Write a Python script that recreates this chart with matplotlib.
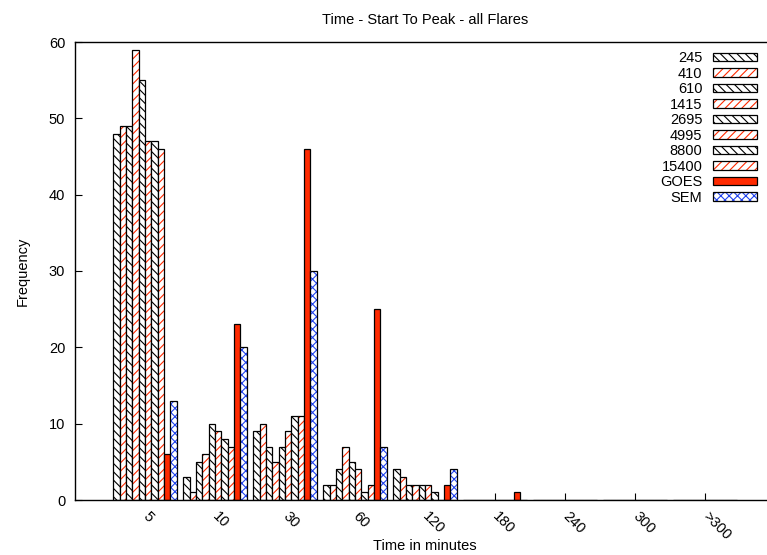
import numpy as np
import matplotlib
matplotlib.use('Agg')
import matplotlib.pyplot as plt

plt.rcParams['font.family'] = ['Liberation Sans', 'DejaVu Sans']
plt.rcParams['hatch.linewidth'] = 0.8

# Categorias (tiempo en minutos)
categories = ['5', '10', '30', '60', '120', '180', '240', '300', '>300']

# Frecuencias por serie
f245 = [48, 3, 9, 2, 4, 0, 0, 0, 0]
f410 = [49, 1, 10, 2, 3, 0, 0, 0, 0]
f610 = [49, 5, 7, 4, 2, 0, 0, 0, 0]
f1415 = [59, 6, 5, 7, 2, 0, 0, 0, 0]
f2695 = [55, 10, 7, 5, 2, 0, 0, 0, 0]
f4995 = [47, 9, 9, 4, 2, 0, 0, 0, 0]
f8800 = [47, 8, 11, 1, 1, 0, 0, 0, 0]
f15400 = [46, 7, 11, 2, 0, 0, 0, 0, 0]
goes = [6, 23, 46, 25, 2, 1, 0, 0, 0]
sem = [13, 20, 30, 7, 4, 0, 0, 0, 0]

series = [('245', f245), ('410', f410), ('610', f610), ('1415', f1415),
          ('2695', f2695), ('4995', f4995), ('8800', f8800), ('15400', f15400),
          ('GOES', goes), ('SEM', sem)]

RED = '#ff2a00'
BLUE = '#2244ee'
FS = 10.5

fig = plt.figure(figsize=(7.67, 5.55), dpi=100)
# el eje se sale por la derecha como en la original
ax = fig.add_axes([75/767, 55/555, 700/767, 458/555])

x = np.arange(len(categories))
w = 1/11
handles = []
for i, (name, vals) in enumerate(series):
    pos = x + (i - 4.5) * w
    if name == 'GOES':
        ax.bar(pos, vals, w, color=RED, edgecolor='black', lw=0.9)
        h = plt.Rectangle((0, 0), 1, 1, facecolor=RED, edgecolor='black', lw=0.9)
    elif name == 'SEM':
        ax.bar(pos, vals, w, color='white', edgecolor=BLUE, hatch='xxxx', lw=0)
        ax.bar(pos, vals, w, color='none', edgecolor='black', lw=0.9)
        h = (plt.Rectangle((0, 0), 1, 1, facecolor='white', edgecolor=BLUE, hatch='xxxx', lw=0),
             plt.Rectangle((0, 0), 1, 1, facecolor='none', edgecolor='black', lw=0.9))
    else:
        hc, hp = ('black', '\\\\\\\\') if i % 2 == 0 else (RED, '////')
        ax.bar(pos, vals, w, color='white', edgecolor=hc, hatch=hp, lw=0)
        ax.bar(pos, vals, w, color='none', edgecolor='black', lw=0.9)
        h = (plt.Rectangle((0, 0), 1, 1, facecolor='white', edgecolor=hc, hatch=hp, lw=0),
             plt.Rectangle((0, 0), 1, 1, facecolor='none', edgecolor='black', lw=0.9))
    handles.append(h)

ax.set_xlim(-1, 9)
ax.set_ylim(0, 60)
ax.set_yticks(range(0, 61, 10))
ax.set_xticks(x)
ax.set_xticklabels(categories, rotation=-45, ha='left', va='center',
                   rotation_mode='anchor')
ax.tick_params(direction='in', length=5, labelsize=FS, width=0.8)
ax.tick_params(axis='x', pad=10)
ax.tick_params(axis='y', pad=7)
for s in ax.spines.values():
    s.set_linewidth(1.0)

ax.set_title('Time - Start To Peak - all Flares', fontsize=FS, pad=13)
ax.set_xlabel('Time in minutes', fontsize=FS, va='center')
ax.xaxis.set_label_coords(0.5, -46/458)
ax.set_ylabel('Frequency', fontsize=FS, labelpad=14)

fig.legend(handles, [n for n, _ in series], loc='upper right',
           bbox_to_anchor=(757/767, 1 - 51/555), frameon=False,
           markerfirst=False, fontsize=FS, handlelength=3.0,
           handleheight=0.5, labelspacing=0.105, handletextpad=0.75,
           borderpad=0, borderaxespad=0)

fig.savefig('out.png', dpi=100)
